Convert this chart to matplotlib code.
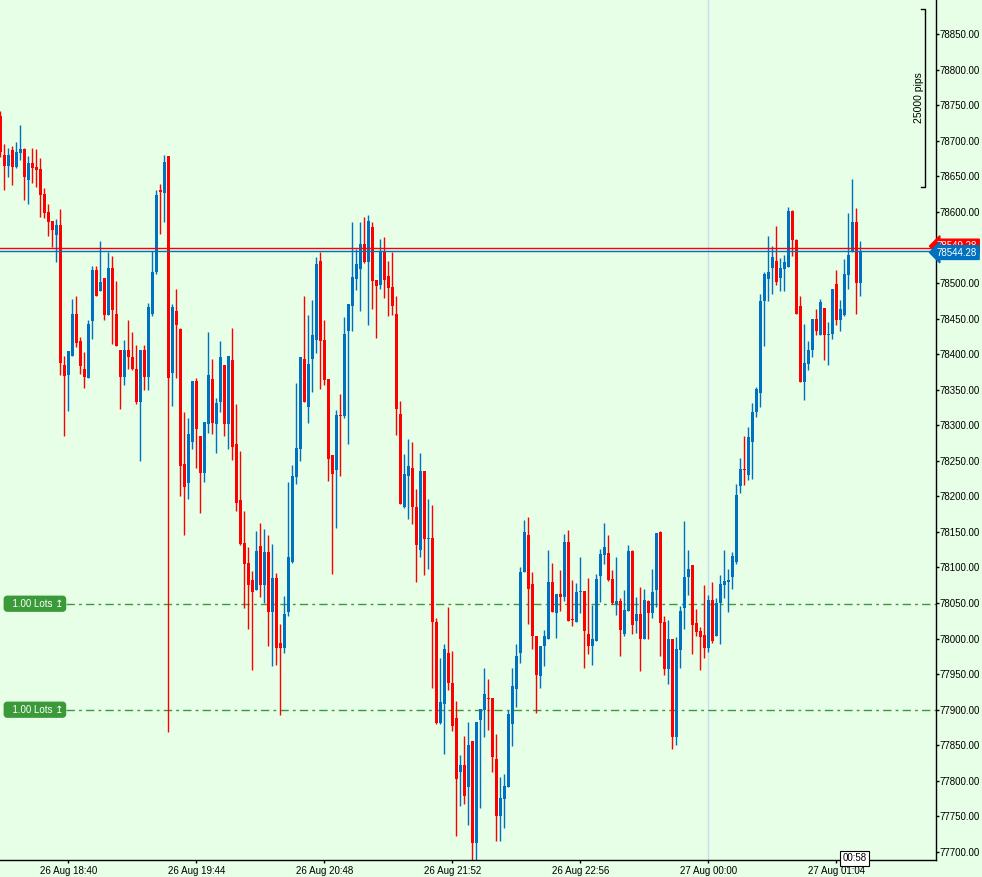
import numpy as np
import matplotlib
matplotlib.use("Agg")
import matplotlib.pyplot as plt
import matplotlib.transforms as mtransforms

# M2 candles, 26 Aug 18:06 .. 27 Aug 01:14
opens = [78735, 78680, 78665, 78687, 78663, 78683, 78689, 78645, 78669, 78663,
         78660, 78625, 78600, 78587, 78567, 78581, 78384, 78370, 78397, 78456,
         78419, 78379, 78367, 78447, 78518, 78489, 78507, 78455, 78521, 78456,
         78406, 78368, 78406, 78396, 78379, 78332, 78406, 78368, 78456, 78516,
         78630, 78627, 78678, 78374, 78460, 78435, 78245, 78219, 78277, 78362,
         78285, 78233, 78302, 78365, 78301, 78332, 78385, 78302, 78392, 78274,
         78195, 78134, 78106, 78082, 78069, 78130, 78076, 78122, 78037, 78085,
         77994, 77987, 78037, 78108, 78227, 78266, 78393, 78326, 78393, 78420,
         78531, 78420, 78365, 78258, 78237, 78314, 78313, 78433, 78468, 78506,
         78520, 78555, 78529, 78579, 78504, 78497, 78543, 78510, 78494, 78456,
         78316, 78185, 78228, 78240, 78185, 78125, 78236, 78140, 78141, 78023,
         77882, 77908, 77980, 77938, 77889, 77813, 77822, 77792, 77856, 77713,
         77886, 77900, 77916, 77917, 77831, 77750, 77775, 77792, 77880, 77929,
         77980, 78094, 78145, 78077, 78004, 77947, 77989, 78000, 78080, 78036,
         78063, 78058, 78136, 78027, 78023, 78065, 78067, 78006, 77989, 77997,
         78088, 78118, 78121, 78084, 78049, 78053, 78006, 78039, 78123, 78025,
         78035, 77999, 78053, 78036, 78068, 78150, 78024, 77957, 77999, 77861,
         77984, 78043, 78086, 78103, 78022, 78011, 78005, 77987, 78054, 78004,
         78050, 78075, 78079, 78087, 78107, 78214, 78238, 78230, 78277, 78318,
         78345, 78474, 78506, 78521, 78531, 78507, 78520, 78523, 78601, 78560,
         78467, 78361, 78386, 78406, 78449, 78427, 78465, 78427, 78428, 78499,
         78448, 78455, 78511, 78544, 78585, 78500]
highs = [78742, 78696, 78690, 78692, 78698, 78722, 78690, 78678, 78690, 78688,
         78675, 78633, 78611, 78587, 78590, 78604, 78397, 78405, 78477, 78481,
         78424, 78403, 78448, 78524, 78524, 78559, 78507, 78544, 78538, 78503,
         78406, 78420, 78448, 78431, 78413, 78406, 78413, 78472, 78545, 78631,
         78639, 78680, 78678, 78471, 78491, 78437, 78318, 78310, 78362, 78367,
         78285, 78304, 78431, 78393, 78338, 78419, 78385, 78397, 78437, 78330,
         78264, 78180, 78129, 78095, 78151, 78163, 78154, 78145, 78133, 78092,
         78020, 78060, 78220, 78244, 78360, 78396, 78481, 78455, 78476, 78536,
         78544, 78448, 78365, 78258, 78321, 78344, 78452, 78470, 78585, 78548,
         78585, 78593, 78596, 78585, 78504, 78562, 78564, 78531, 78544, 78482,
         78334, 78260, 78281, 78276, 78210, 78261, 78236, 78196, 78188, 78029,
         77973, 77993, 78045, 77982, 77912, 77836, 77863, 77883, 77856, 77883,
         77901, 77959, 77943, 77917, 77866, 77806, 77810, 77900, 77959, 77993,
         78101, 78167, 78171, 78094, 78004, 77990, 78012, 78125, 78106, 78063,
         78096, 78147, 78152, 78082, 78078, 78114, 78067, 78085, 78047, 78091,
         78126, 78162, 78146, 78096, 78114, 78057, 78068, 78131, 78125, 78059,
         78072, 78070, 78054, 78098, 78149, 78151, 78032, 78026, 77999, 78002,
         78046, 78165, 78125, 78103, 78042, 78016, 78075, 78061, 78079, 78057,
         78089, 78125, 78098, 78122, 78218, 78254, 78285, 78298, 78331, 78354,
         78484, 78516, 78566, 78552, 78580, 78535, 78539, 78607, 78603, 78562,
         78481, 78442, 78419, 78449, 78463, 78477, 78465, 78445, 78491, 78518,
         78476, 78533, 78599, 78646, 78606, 78559]
lows = [78677, 78630, 78649, 78638, 78662, 78673, 78616, 78611, 78640, 78635,
        78593, 78591, 78566, 78550, 78530, 78370, 78285, 78320, 78397, 78410,
        78372, 78353, 78367, 78421, 78481, 78489, 78448, 78455, 78414, 78411,
        78323, 78356, 78379, 78378, 78330, 78249, 78349, 78350, 78454, 78513,
        78569, 78586, 77868, 78327, 78367, 78201, 78146, 78196, 78266, 78240,
        78176, 78220, 78289, 78287, 78261, 78319, 78285, 78266, 78251, 78180,
        78131, 78043, 78014, 77956, 78069, 78058, 78050, 77990, 77962, 77963,
        77893, 77980, 78032, 78106, 78217, 78250, 78332, 78303, 78347, 78402,
        78351, 78356, 78221, 78091, 78156, 78228, 78310, 78274, 78433, 78490,
        78461, 78528, 78441, 78464, 78423, 78491, 78479, 78453, 78455, 78286,
        78189, 78183, 78168, 78161, 78080, 78115, 78089, 78098, 77930, 77880,
        77880, 77838, 77928, 77870, 77722, 77764, 77768, 77738, 77689, 77689,
        77762, 77862, 77871, 77813, 77716, 77715, 77733, 77792, 77849, 77904,
        77965, 78094, 78020, 77985, 77896, 77931, 77961, 78000, 78038, 78001,
        78039, 78053, 78025, 78018, 78023, 78036, 77959, 77978, 77963, 77996,
        78052, 78105, 78081, 78049, 78033, 77976, 78004, 78039, 78006, 78008,
        77955, 77999, 77999, 78029, 78044, 77975, 77949, 77936, 77845, 77850,
        77959, 78013, 78061, 77978, 78004, 77956, 77973, 77981, 77994, 78004,
        77992, 78057, 78038, 78070, 78105, 78205, 78216, 78223, 78224, 78311,
        78325, 78412, 78474, 78484, 78497, 78488, 78488, 78523, 78538, 78456,
        78361, 78335, 78378, 78396, 78427, 78427, 78391, 78384, 78421, 78441,
        78432, 78453, 78491, 78544, 78456, 78481]
closes = [78684, 78665, 78680, 78663, 78684, 78689, 78649, 78669, 78662, 78659,
          78623, 78599, 78586, 78575, 78581, 78388, 78369, 78405, 78456, 78416,
          78383, 78368, 78442, 78518, 78482, 78502, 78455, 78521, 78462, 78411,
          78368, 78406, 78396, 78379, 78332, 78406, 78368, 78466, 78516, 78623,
          78628, 78670, 78367, 78466, 78441, 78243, 78213, 78287, 78362, 78295,
          78233, 78304, 78371, 78303, 78331, 78396, 78302, 78397, 78269, 78191,
          78133, 78105, 78076, 78065, 78123, 78076, 78122, 78037, 78085, 77987,
          77987, 78035, 78114, 78229, 78268, 78396, 78332, 78386, 78427, 78527,
          78419, 78364, 78252, 78231, 78314, 78313, 78428, 78470, 78508, 78527,
          78555, 78529, 78587, 78503, 78496, 78543, 78504, 78493, 78467, 78323,
          78189, 78231, 78242, 78185, 78131, 78236, 78140, 78141, 78024, 77882,
          77911, 77985, 77937, 77877, 77803, 77822, 77779, 77850, 77713, 77883,
          77901, 77922, 77915, 77833, 77750, 77776, 77793, 77894, 77933, 77975,
          78094, 78150, 78070, 78003, 77949, 77990, 78003, 78080, 78038, 78063,
          78058, 78136, 78025, 78026, 78065, 78066, 78011, 77989, 77999, 78084,
          78119, 78129, 78082, 78050, 78053, 78012, 78040, 78123, 78019, 78035,
          77999, 78054, 78036, 78065, 78149, 78022, 77957, 77999, 77862, 77985,
          78039, 78086, 78098, 78019, 78009, 78002, 77987, 78054, 77997, 78050,
          78077, 78081, 78082, 78116, 78202, 78238, 78237, 78283, 78318, 78351,
          78475, 78513, 78516, 78536, 78502, 78521, 78529, 78601, 78560, 78457,
          78361, 78388, 78406, 78449, 78433, 78473, 78427, 78428, 78491, 78448,
          78463, 78513, 78539, 78586, 78500, 78544.28]

time_ticks = [17, 49, 81, 113, 145, 177, 209]
time_labels = ["26 Aug 18:40", "26 Aug 19:44", "26 Aug 20:48", "26 Aug 21:52",
               "26 Aug 22:56", "27 Aug 00:00", "27 Aug 01:04"]
price_ticks = list(range(77700, 78851, 50))

bid = 78544.28
ask = 78549.28
order_levels = [78049, 77900]
order_text = "  1.00 Lots \u21a5"
day_sep = 177

BG = "#E6FFE6"
UP = "#0070C0"
DOWN = "#FF0000"
GREEN = "#3A9A3A"

o = np.array(opens, dtype=float)
h = np.array(highs, dtype=float)
l = np.array(lows, dtype=float)
c = np.array(closes, dtype=float)
x = np.arange(len(o))
cols = np.where(c >= o, UP, DOWN)

plt.rcParams["font.family"] = ["Liberation Sans", "DejaVu Sans"]

fig = plt.figure(figsize=(9.82, 8.77), dpi=100, facecolor=BG)
ax = fig.add_axes([0, 17 / 877, 936 / 982, 860 / 877], facecolor=BG)

# separator for new day
ax.axvline(day_sep, color="#C6DDF2", lw=1, zorder=0.5)

# candles
ax.vlines(x, l, h, colors=cols, lw=1, zorder=2)
body_lo = np.minimum(o, c)
body_h = np.maximum(np.abs(c - o), 1.4)
ax.bar(x, body_h, bottom=body_lo, width=0.75, color=cols, linewidth=0, zorder=2)

# bid / ask
ax.axhline(ask, color=DOWN, lw=1, zorder=3)
ax.axhline(bid, color=UP, lw=1, zorder=3)

# pending orders
for lev in order_levels:
    ax.hlines(lev, 16.3, 240, colors=GREEN, lw=1, linestyles=(0, (6, 3, 2, 3)), zorder=1)
    ax.text(1.6, lev, order_text, fontsize=7, color="white", ha="left", va="center",
            zorder=4, bbox=dict(boxstyle="round,pad=0.25,rounding_size=0.3", fc=GREEN, ec=GREEN))

ax.set_xlim(-0.08, 233.9)
ax.set_ylim(77688.7, 78897.8)

ax.yaxis.tick_right()
ax.set_yticks(price_ticks)
ax.set_yticklabels([f"{p:.2f}" for p in price_ticks])
ax.set_xticks(time_ticks)
ax.set_xticklabels(time_labels)
ax.tick_params(axis="both", labelsize=7, colors="black", length=2, width=1, pad=2)
ax.tick_params(axis="y", pad=0.5)
for s in ["left", "top"]:
    ax.spines[s].set_visible(False)
for s in ["right", "bottom"]:
    ax.spines[s].set_color("black")
    ax.spines[s].set_linewidth(1)

# price tags on the scale
tr = mtransforms.blended_transform_factory(ax.transAxes, ax.transData)
ax.text(1.001, ask + 2.5, f"{ask:.2f}", transform=tr, fontsize=7, color="white",
        ha="left", va="center", clip_on=False, zorder=5,
        bbox=dict(boxstyle="larrow,pad=0.2", fc=DOWN, ec=DOWN))
ax.text(1.001, bid - 1.5, f"{bid:.2f}", transform=tr, fontsize=7, color="white",
        ha="left", va="center", clip_on=False, zorder=6,
        bbox=dict(boxstyle="larrow,pad=0.2", fc=UP, ec=UP))

# ruler bracket 25000 pips
ax.plot([230.2, 231.2, 231.2, 230.2], [78885, 78885, 78635, 78635], color="black", lw=1,
        clip_on=False, zorder=4)
ax.text(229.6, 78760, "25000 pips", rotation=90, fontsize=7.5, ha="center", va="center")

# bar countdown
trx = mtransforms.blended_transform_factory(ax.transData, ax.transAxes)
ax.text(213.5, 0.002, "00:58", transform=trx, fontsize=7, ha="center", va="center",
        clip_on=False, zorder=6,
        bbox=dict(boxstyle="square,pad=0.25", fc="white", ec="black", lw=0.8))

fig.savefig("out.png", dpi=100, facecolor=BG)
